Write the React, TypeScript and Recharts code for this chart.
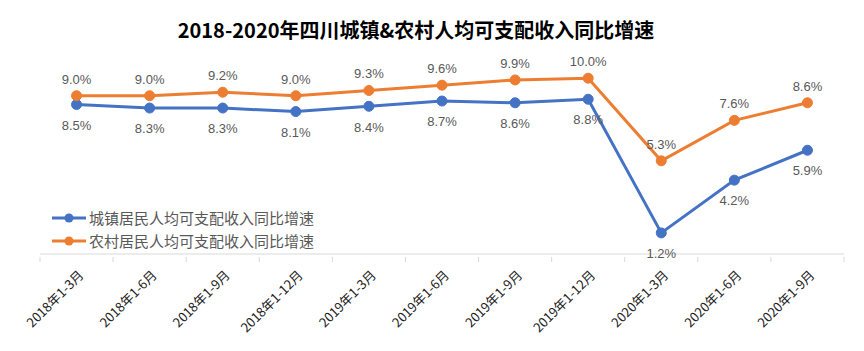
import React from 'react';
import { LineChart, Line, XAxis, YAxis, LabelList, Legend } from 'recharts';

const categories = [
  '2018年1-3月', '2018年1-6月', '2018年1-9月', '2018年1-12月',
  '2019年1-3月', '2019年1-6月', '2019年1-9月', '2019年1-12月',
  '2020年1-3月', '2020年1-6月', '2020年1-9月',
];
const urbanGrowth = [8.5, 8.3, 8.3, 8.1, 8.4, 8.7, 8.6, 8.8, 1.2, 4.2, 5.9];
const ruralGrowth = [9.0, 9.0, 9.2, 9.0, 9.3, 9.6, 9.9, 10.0, 5.3, 7.6, 8.6];

const urbanName = '城镇居民人均可支配收入同比增速';
const ruralName = '农村居民人均可支配收入同比增速';
const legendOrder = [urbanName, ruralName];

const data = categories.map((c, i) => ({
  period: c,
  urban: urbanGrowth[i],
  rural: ruralGrowth[i],
}));

const W = 864;
const H = 351;
const margin = { top: 43, right: 20, left: 40, bottom: 0 };
const halfBand = (W - margin.left - margin.right) / categories.length / 2;

const cjk = '"Noto Sans CJK SC", "Noto Sans", sans-serif';
const numFont = '"Liberation Sans", Arial, sans-serif';

const fmt = (v: any) => `${Number(v).toFixed(1)}%`;

const PeriodTick = (props: any) => {
  const { x, y, payload, index } = props;
  const last = index === categories.length - 1;
  return (
    <g>
      <line x1={x - halfBand} x2={x - halfBand} y1={y - 5} y2={y} stroke="#D9D9D9" />
      {last && <line x1={x + halfBand} x2={x + halfBand} y1={y - 5} y2={y} stroke="#D9D9D9" />}
      <g transform={`translate(${x + 8},${y + 14})`}>
        <text
          x={0}
          y={0}
          textAnchor="end"
          transform="rotate(-45)"
          fontSize={13}
          fontFamily={cjk}
          fill="#222"
        >
          {payload.value}
        </text>
      </g>
    </g>
  );
};

const LegendBox = (props: any) => {
  const items = [...(props.payload || [])].sort(
    (a: any, b: any) => legendOrder.indexOf(a.value) - legendOrder.indexOf(b.value)
  );
  return (
    <div style={{ fontFamily: cjk, fontSize: 15, color: '#595959' }}>
      {items.map((p: any) => (
        <div key={p.value} style={{ display: 'flex', alignItems: 'center', height: 23 }}>
          <svg width={36} height={12} style={{ marginRight: 2 }}>
            <line x1={1} x2={35} y1={6} y2={6} stroke={p.color} strokeWidth={3} />
            <circle cx={18} cy={6} r={4.5} fill={p.color} />
          </svg>
          <span>{p.value}</span>
        </div>
      ))}
    </div>
  );
};

export default function App() {
  return (
    <div style={{ position: 'absolute', left: 0, top: 0, width: W, height: H, background: '#fff' }}>
      <div
        style={{
          position: 'absolute',
          left: 0,
          top: 16,
          width: 832,
          textAlign: 'center',
          fontFamily: cjk,
          fontWeight: 700,
          fontSize: 20,
          lineHeight: '28px',
          color: '#000',
          zIndex: 2,
        }}
      >
        2018-2020年四川城镇&amp;农村人均可支配收入同比增速
      </div>
      <LineChart width={W} height={H} data={data} margin={margin}>
        <XAxis
          dataKey="period"
          interval={0}
          height={97}
          padding={{ left: halfBand, right: halfBand }}
          axisLine={{ stroke: '#D9D9D9' }}
          tickLine={false}
          tick={<PeriodTick />}
        />
        <YAxis hide domain={[0, 12]} />
        <Legend
          layout="vertical"
          align="center"
          verticalAlign="middle"
          wrapperStyle={{ left: 51, top: 206, width: 'auto' }}
          content={<LegendBox />}
        />
        <Line
          type="linear"
          dataKey="urban"
          name={urbanName}
          stroke="#4472C4"
          strokeWidth={3}
          dot={{ r: 5, fill: '#4472C4', stroke: '#4472C4', strokeWidth: 1 }}
          isAnimationActive={false}
        >
          <LabelList
            dataKey="urban"
            position="bottom"
            offset={16}
            formatter={fmt}
            fontSize={13}
            fontFamily={numFont}
            fill="#595959"
          />
        </Line>
        <Line
          type="linear"
          dataKey="rural"
          name={ruralName}
          stroke="#ED7D31"
          strokeWidth={3}
          dot={{ r: 5, fill: '#ED7D31', stroke: '#ED7D31', strokeWidth: 1 }}
          isAnimationActive={false}
        >
          <LabelList
            dataKey="rural"
            position="top"
            offset={12}
            formatter={fmt}
            fontSize={13}
            fontFamily={numFont}
            fill="#595959"
          />
        </Line>
      </LineChart>
    </div>
  );
}
